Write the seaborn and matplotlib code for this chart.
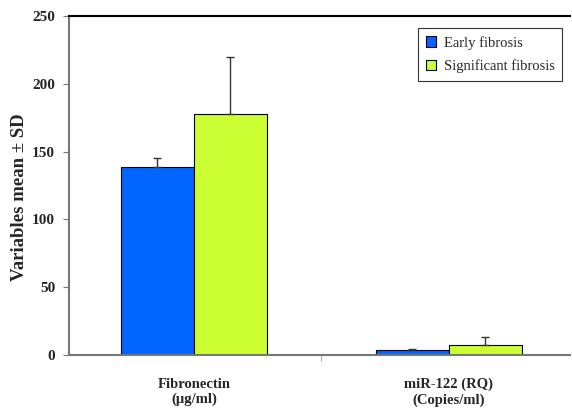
import matplotlib
matplotlib.use("Agg")
import matplotlib.pyplot as plt
import seaborn as sns
import pandas as pd
import numpy as np

categories = ["Fibronectin\n(µg/ml)", "miR-122 (RQ)\n(Copies/ml)"]
groups = ["Early fibrosis", "Significant fibrosis"]
early_mean = [139, 3.7]
early_sd = [6.5, 0.6]
sig_mean = [178, 7.4]
sig_sd = [41.5, 5.6]
colors = ["#0066FF", "#CCFF33"]

sns.set_style("white")
plt.rcParams['font.family'] = ['Liberation Serif', 'DejaVu Serif']

df = pd.DataFrame({
    "cat": categories * 2,
    "group": [groups[0]] * 2 + [groups[1]] * 2,
    "mean": early_mean + sig_mean,
    "sd": early_sd + sig_sd,
})

fig = plt.figure(figsize=(5.72, 4.11), dpi=100)
ax = fig.add_axes([0.1206, 0.1363, 0.8759, 0.8247])
sns.barplot(data=df, x="cat", y="mean", hue="group", palette=colors,
            errorbar=None, width=0.572, edgecolor="black", linewidth=0.8,
            saturation=1, ax=ax)

# error bars (upper only)
for container, sds in zip(ax.containers, [early_sd, sig_sd]):
    for patch, sd in zip(container.patches, sds):
        xc = patch.get_x() + patch.get_width() / 2
        h = patch.get_height()
        ax.errorbar(xc, h, yerr=[[0], [sd]], fmt="none", ecolor="#333333",
                    elinewidth=1, capsize=3, capthick=1)

ax.set_ylim(0, 250)
ax.set_xlim(-0.49, 1.475)
ax.set_yticks([0, 50, 100, 150, 200, 250])
ax.set_yticklabels(["0", "50", "100", "150", "200", "250"], fontweight="bold", fontsize=11)
ax.set_xticks([0, 1])
ax.set_xticklabels(categories, fontweight="bold", fontsize=10.5)
ax.set_xlabel("")
ax.set_ylabel("Variables mean ± SD", fontweight="bold", fontsize=13.5)
ax.yaxis.set_label_coords(-0.082, 0.466)

for s in ["left", "bottom"]:
    ax.spines[s].set_color("#777777")
    ax.spines[s].set_linewidth(1.5)
ax.spines["top"].set_color("black")
ax.spines["top"].set_linewidth(1.5)
ax.spines["right"].set_visible(False)
ax.tick_params(axis="y", which="both", left=True, length=4, color="#777777", pad=6)
ax.tick_params(axis="x", which="both", bottom=False, pad=13)
ax.set_xticks([0.5], minor=True)
ax.tick_params(axis="x", which="minor", bottom=True, length=4, color="#999999")

leg = ax.legend(loc="upper right", bbox_to_anchor=(0.985, 0.965), frameon=True,
                fancybox=False, edgecolor="black", fontsize=10.5,
                handlelength=0.7, handleheight=0.7, handletextpad=0.5,
                borderpad=0.55, labelspacing=0.65, borderaxespad=0)
leg.get_frame().set_linewidth(0.8)

fig.savefig("out.png", dpi=100)
